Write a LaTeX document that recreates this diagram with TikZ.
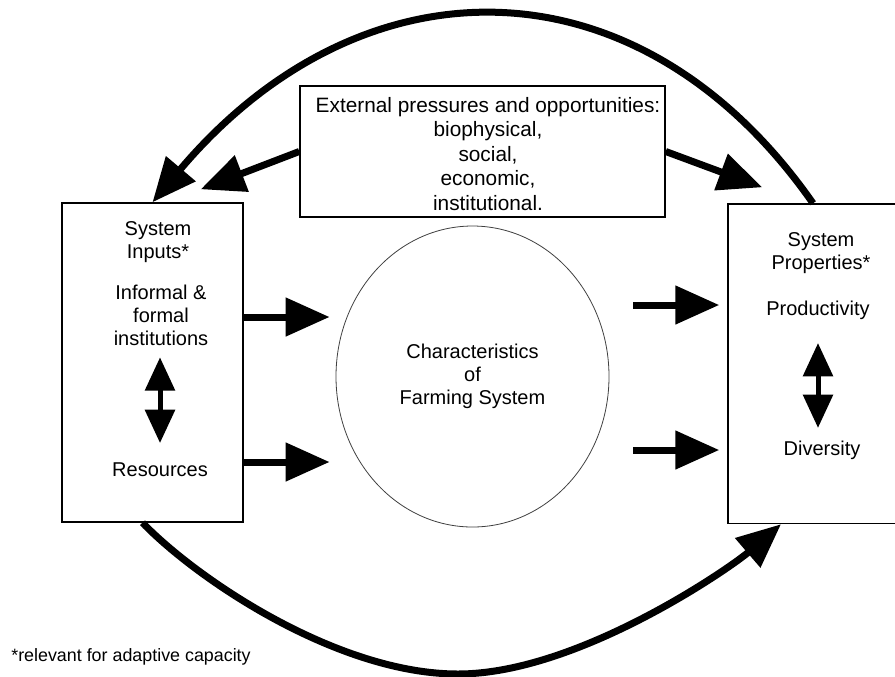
\documentclass[tikz,border=0pt]{standalone}
\usepackage{fontspec}
\setmainfont{Liberation Sans}
\usetikzlibrary{arrows.meta,shapes.geometric,calc}

\begin{document}
\begin{tikzpicture}[x=0.75pt,y=-0.75pt,
  box/.style={draw,line width=1.1pt,inner sep=0pt},
  txt/.style={align=center,inner sep=0pt,font=\fontsize{15}{17.25}\selectfont},
  fat/.style={line width=5.25pt,-{Triangle[length=33pt,width=28pt]}},
  dbl/.style={line width=3.75pt,{Triangle[length=25pt,width=22pt]}-{Triangle[length=25pt,width=22pt]}}]
\path[use as bounding box,fill=white] (0,0) rectangle (895,676);

% boxes and the farming system
\node[box,minimum width=135.75pt,minimum height=239.25pt] (inputs) at (152.5,362.5) {};
\node[box,minimum width=127.5pt,minimum height=239.6pt] (props) at (813,363.75) {};
\node[box,minimum width=273.75pt,minimum height=98.25pt] (ext) at (482.5,151.5) {};
\node[txt,font=\fontsize{15.6}{18.4}\selectfont] (extlbl) at (488,154) {External pressures and opportunities:\\biophysical,\\social,\\economic,\\institutional.};
\node[txt,draw=black!75,line width=0.6pt,ellipse,minimum width=204.75pt,minimum height=225.75pt] (farm) at (472.5,376.5) {Characteristics\\of\\Farming System};

% texts in the boxes
\node[txt] (sysin) at (158,242) {System\\Inputs*};
\node[txt] (instit) at (161,315) {Informal \&\\formal\\institutions};
\node[txt] (res) at (160,470) {Resources};
\node[txt] (sysprop) at (821,253) {System\\Properties*};
\node[txt] (prod) at (818,310) {Productivity};
\node[txt] (div) at (822,450) {Diversity};
\node[inner sep=0pt,font=\fontsize{13.4}{16}\selectfont] (note) at (131,657) {*relevant for adaptive capacity};

% arrows
\foreach \n/\d in {instit/2,res/-8}
  \draw[fat,shorten >=4.5pt] ($(inputs.east |- \n)+(0,\d)$) -- ($(farm.west |- \n)+(0,\d)$);
\foreach \n/\d in {prod/-5,div/0}
  \draw[fat,shorten <=18pt,shorten >=6pt] ($(farm.east |- \n)+(0,\d)$) -- ($(props.west |- \n)+(0,\d)$);
\draw[dbl,shorten <=8.8pt,shorten >=14.8pt] (res |- instit.south) -- (res.north);
\draw[dbl,shorten <=17.6pt,shorten >=9.4pt] (prod.south) -- (prod |- div.north);

\draw[fat] (ext.west) -- ($(inputs.north east)+(-43,-13)$);
\draw[fat] (ext.east) -- ($(props.north west)+(35,-16)$);

\draw[fat] (props.north) .. controls +(-174,-249) and +(209.5,-248) .. (inputs.north);
\coordinate (low) at (458,674);
\draw[fat] ($(inputs.south)+(-10,0)$) .. controls +(55,57) and +(-120,0) .. (low)
  .. controls +(120,0) and +(-50,43) .. ($(props.south)+(-32,0)$);
\end{tikzpicture}
\end{document}
